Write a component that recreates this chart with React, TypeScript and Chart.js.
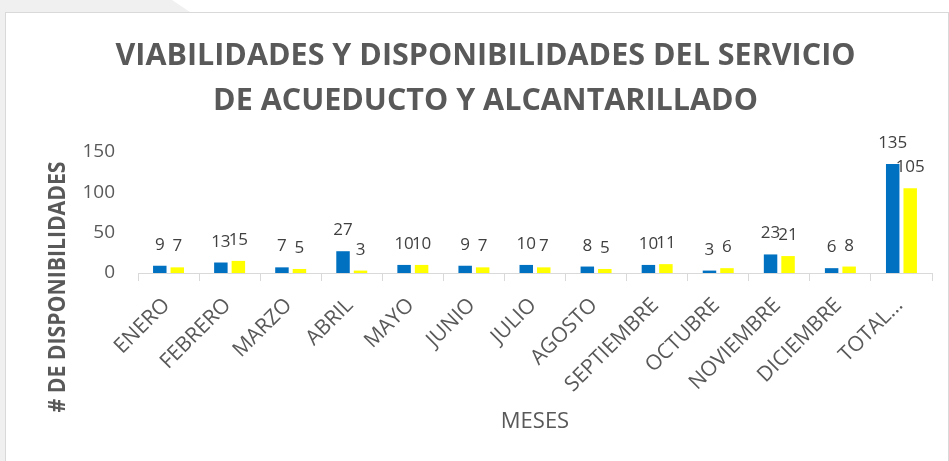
import React, { useEffect, useRef } from "react";
import { Chart, registerables } from "chart.js";

Chart.register(...registerables);

const FONT = "'Open Sans', 'DejaVu Sans', sans-serif";
const GREY = "#595959";

const titleLines = [
  "VIABILIDADES Y DISPONIBILIDADES DEL SERVICIO",
  "DE ACUEDUCTO Y ALCANTARILLADO",
];
const yAxisTitle = "# DE DISPONIBILIDADES";
const xAxisTitle = "MESES";

const categories = [
  "ENERO",
  "FEBRERO",
  "MARZO",
  "ABRIL",
  "MAYO",
  "JUNIO",
  "JULIO",
  "AGOSTO",
  "SEPTIEMBRE",
  "OCTUBRE",
  "NOVIEMBRE",
  "DICIEMBRE",
  "TOTAL…",
];
const viabilidades = [9, 13, 7, 27, 10, 9, 10, 8, 10, 3, 23, 6, 135];
const disponibilidades = [7, 15, 5, 3, 10, 7, 7, 5, 11, 6, 21, 8, 105];
const yMin = 0;
const yMax = 150;
const yStep = 50;

const valueLabels = {
  id: "valueLabels",
  afterDatasetsDraw(chart: any) {
    const ctx = chart.ctx;
    ctx.save();
    ctx.font = `17px ${FONT}`;
    ctx.fillStyle = "#404040";
    ctx.textAlign = "center";
    ctx.textBaseline = "alphabetic";
    chart.data.datasets.forEach((ds: any, i: number) => {
      const meta = chart.getDatasetMeta(i);
      meta.data.forEach((el: any, j: number) => {
        ctx.fillText(String(ds.data[j]), el.x, el.y - 16);
      });
    });
    ctx.restore();
  },
};

// draws text horizontally compressed to a target width (Calibri-like condensed look)
function drawFitted(ctx: any, text: string, sx: number) {
  ctx.save();
  ctx.scale(sx, 1);
  ctx.fillText(text, 0, 0);
  ctx.restore();
}

const textLayer = {
  id: "textLayer",
  afterDraw(chart: any) {
    const ctx = chart.ctx;
    const a = chart.chartArea;
    ctx.save();
    ctx.fillStyle = GREY;
    ctx.textAlign = "center";
    ctx.textBaseline = "alphabetic";

    // Chart title (two lines)
    ctx.font = `bold 31px ${FONT}`;
    const tsx = 740 / ctx.measureText(titleLines[0]).width;
    const titleX = (a.left + a.right) / 2 - 49.5;
    const baselines = [a.top - 87, a.top - 42];
    titleLines.forEach((line, i) => {
      ctx.save();
      ctx.translate(titleX, baselines[i]);
      drawFitted(ctx, line, tsx);
      ctx.restore();
    });

    // Y axis title
    ctx.font = `bold 24px ${FONT}`;
    const ysx = 251 / ctx.measureText(yAxisTitle).width;
    ctx.save();
    ctx.translate(a.left - 73, a.bottom + 14);
    ctx.rotate(-Math.PI / 2);
    drawFitted(ctx, yAxisTitle, ysx);
    ctx.restore();

    // X axis title
    ctx.font = `22px ${FONT}`;
    ctx.fillText(xAxisTitle, (a.left + a.right) / 2, a.bottom + 155);
    ctx.restore();
  },
};

export default function App() {
  const ref = useRef<HTMLCanvasElement | null>(null);

  useEffect(() => {
    if (!ref.current) return;
    const chart = new Chart(ref.current, {
      type: "bar",
      data: {
        labels: categories,
        datasets: [
          {
            label: "Viabilidades",
            data: viabilidades,
            backgroundColor: "#0070C0",
            categoryPercentage: 0.573,
            barPercentage: 0.77,
          },
          {
            label: "Disponibilidades",
            data: disponibilidades,
            backgroundColor: "#FFFF00",
            categoryPercentage: 0.573,
            barPercentage: 0.77,
          },
        ],
      },
      options: {
        responsive: false,
        animation: false,
        layout: { padding: { left: 0, right: 16, top: 139, bottom: 0 } },
        plugins: {
          legend: { display: false },
          tooltip: { enabled: false },
          title: { display: false },
        },
        scales: {
          x: {
            grid: {
              display: true,
              offset: true,
              drawOnChartArea: false,
              drawTicks: true,
              tickLength: 8,
              color: "#d9d9d9",
              lineWidth: 1,
            },
            border: { display: true, color: "#d9d9d9", width: 1 },
            ticks: {
              color: GREY,
              font: { family: FONT, size: 21 },
              minRotation: 45,
              maxRotation: 45,
              autoSkip: false,
              padding: 12,
              labelOffset: -2,
            },
            afterFit: (s: any) => {
              s.height = 188;
            },
          },
          y: {
            min: yMin,
            max: yMax,
            grid: { display: false, drawTicks: false },
            border: { display: false },
            ticks: {
              stepSize: yStep,
              color: GREY,
              font: { family: FONT, size: 19 },
              padding: 23,
            },
            afterFit: (s: any) => {
              s.width = 132;
            },
          },
        },
      },
      plugins: [valueLabels, textLayer],
    } as any);
    return () => chart.destroy();
  }, []);

  return (
    <div
      style={{
        position: "fixed",
        left: 0,
        top: 0,
        width: 949,
        height: 461,
        overflow: "hidden",
        background: "#ffffff",
      }}
    >
      <div
        style={{
          position: "absolute",
          left: 0,
          top: 0,
          width: 949,
          height: 461,
          background: "#f0f0f0",
          clipPath: "polygon(0 0, 172px 0, 190px 12px, 5px 12px, 5px 100%, 0 100%)",
        }}
      />
      <div
        style={{
          position: "absolute",
          left: 5,
          top: 12,
          width: 942,
          height: 448,
          border: "1px solid #d9d9d9",
          background: "#ffffff",
        }}
      >
        <canvas ref={ref} width={942} height={448} style={{ display: "block" }} />
      </div>
    </div>
  );
}
